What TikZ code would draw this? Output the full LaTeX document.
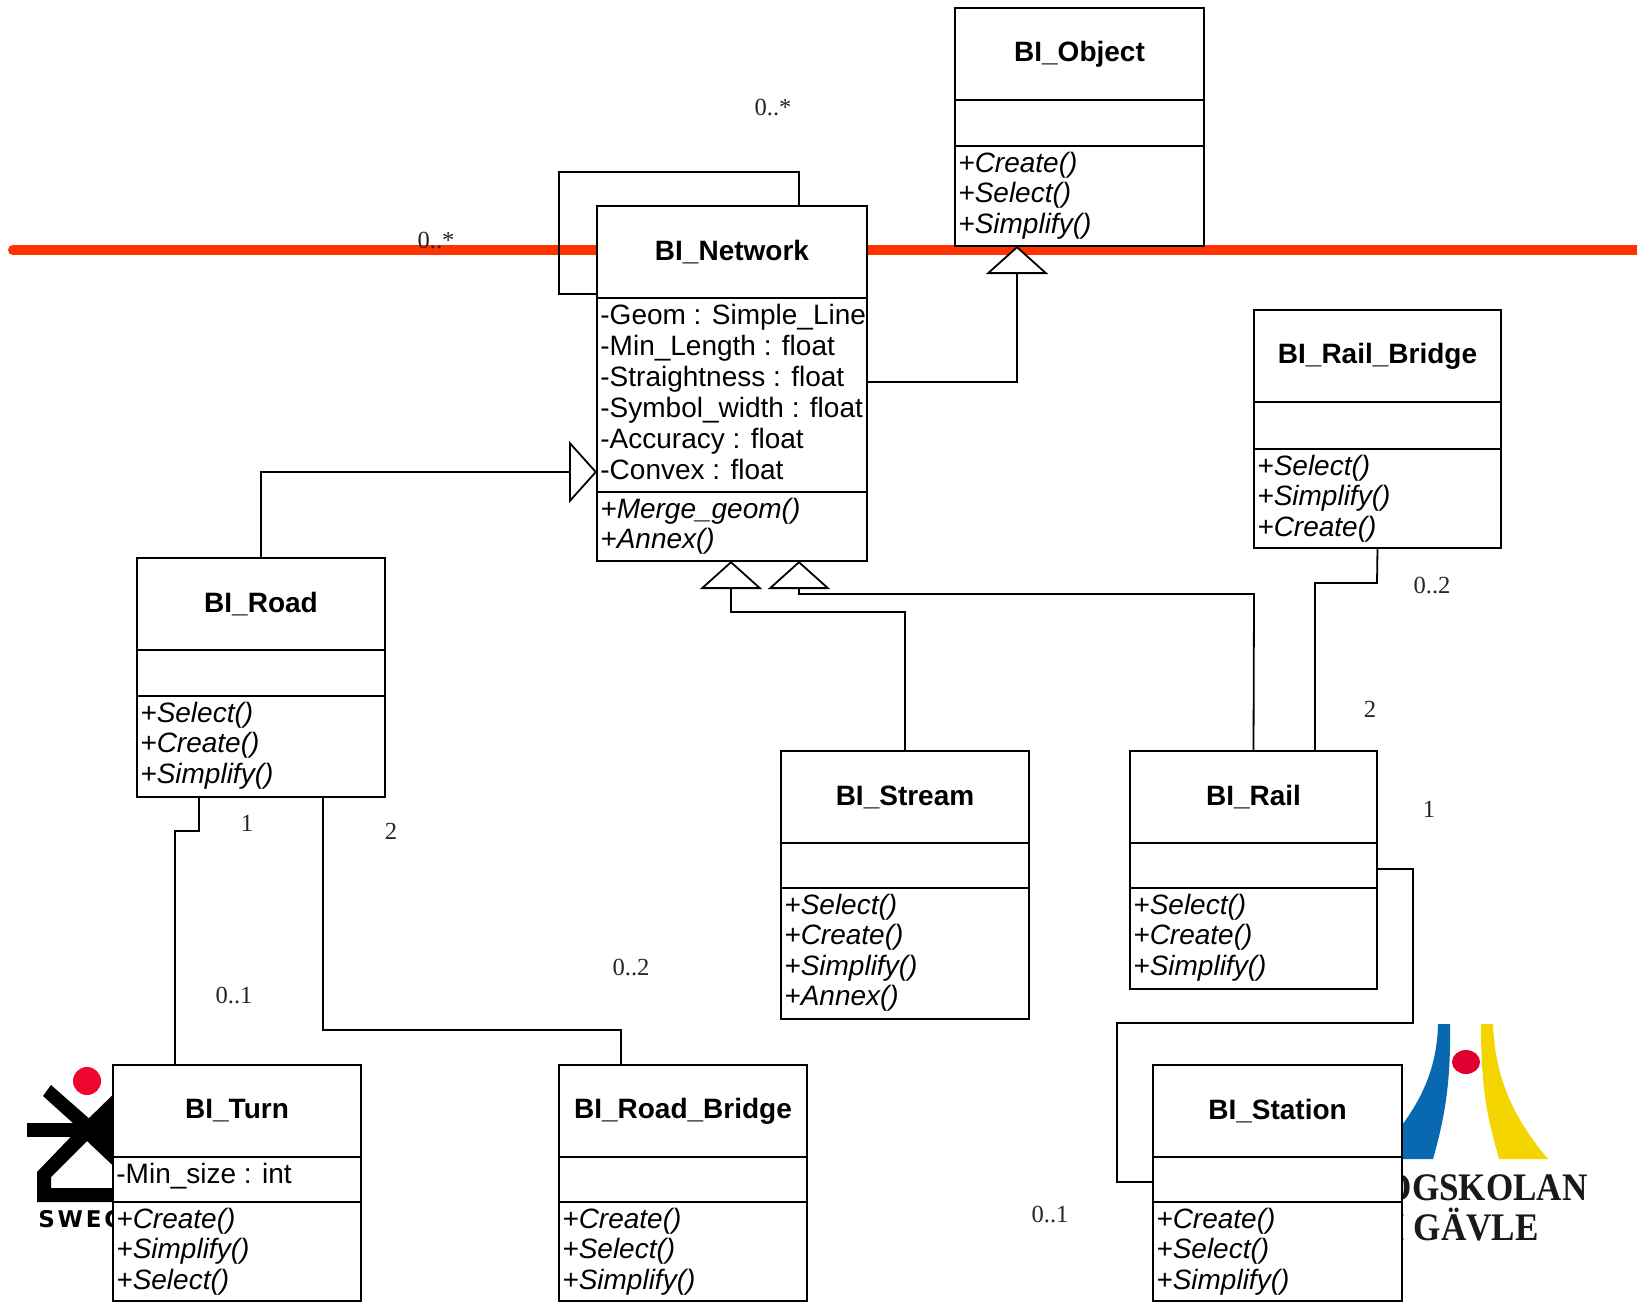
\documentclass[tikz,border=0pt]{standalone}
\usepackage{fontspec}
\setmainfont{Liberation Sans}
\newfontfamily\timesf{Liberation Serif}
\newfontfamily\swecof[LetterSpace=12]{DejaVu Sans}
\usetikzlibrary{arrows.meta}
\definecolor{redline}{HTML}{FF3300}
\definecolor{dotred}{HTML}{EE0530}
\definecolor{hbblue}{HTML}{0868B0}
\definecolor{hbyellow}{HTML}{F5D500}
\definecolor{hbred}{HTML}{DF0030}
\tikzset{
  classbox/.style={draw=black,fill=white,line width=0.9pt,inner sep=0pt,outer sep=0pt},
  classtitle/.style={font=\fontsize{14}{16}\selectfont\bfseries,inner sep=0pt},
  attrline/.style={font=\fontsize{14}{16}\selectfont,anchor=base west,inner sep=0pt},
  opline/.style={font=\fontsize{14}{16}\selectfont\itshape,anchor=base west,inner sep=0pt},
  mult/.style={font=\fontsize{12.3}{14}\timesf,inner sep=0pt,text=black!85},
  conn/.style={draw=black,line width=0.9pt,line join=miter},
  inherit/.style={conn,-{Triangle[fill=white,length=14pt,width=31pt,sep=0pt]}},
  hbtext/.style={font=\fontsize{19.5}{22}\timesf\bfseries,inner sep=0pt,anchor=base east,xscale=0.9,text=black!90},
}
% id, x1, y1, x2, y2, line 2, title, attributes, operations
\newcommand{\classrect}[9]{%
  \pgfmathsetmacro\cw{(#4-#2)*0.5}\pgfmathsetmacro\ch{(#5-#3)*0.5}%
  \pgfmathsetmacro\cx{(#2+#4)/2}\pgfmathsetmacro\cy{(#3+#5)/2}%
  \pgfmathsetmacro\lone{#3+92}\pgfmathsetmacro\lx{#2+3}%
  \node[classbox,minimum width=\cw pt,minimum height=\ch pt] (#1) at (\cx,\cy) {};
  \draw[conn] (#1.west |- 0,\lone) -- (#1.east |- 0,\lone);
  \draw[conn] (#1.west |- 0,#6) -- (#1.east |- 0,#6);
  \pgfmathsetmacro\ty{(#3+\lone)/2}%
  \node[classtitle] (#1-t) at (\cx,\ty) {#7};
  \foreach \t [count=\i from 0] in {#8} {
    \pgfmathsetmacro\yy{\lone+26+31*\i}
    \node[attrline] (#1-a\i) at (\lx,\yy) {\t};
  }
  \foreach \t [count=\i from 0] in {#9} {
    \pgfmathsetmacro\yy{#6+26+30.5*\i}
    \node[opline] (#1-o\i) at (\lx,\yy) {\t};
  }
}
\begin{document}
\begin{tikzpicture}[x=0.5pt,y=-0.5pt]
\useasboundingbox (0,0) rectangle (1637,1302);
\fill[white] (0,0) rectangle (1637,1302);
\clip (0,0) rectangle (1637,1302);
% red line
\draw[redline,line width=5pt,line cap=round] (13,250) -- (1660,250);
% SWECO logo
\fill[dotred] (87,1081) circle[radius=14];
\fill[black] (27,1123) rectangle (125,1137);
\fill[black,even odd rule] (37,1172) -- (87,1120) -- (125,1083) -- (125,1202) -- (37,1202) -- cycle
  (51,1177) -- (87,1141) -- (125,1177) -- (125,1188) -- (51,1188) -- cycle;
\fill[black] (43,1096) -- (51,1085) -- (125,1150) -- (125,1170) -- cycle;
\node[font=\fontsize{11.5}{13}\swecof\bfseries,anchor=base west,inner sep=0pt] (sweco) at (38,1227) {SWECO};
% HiG logo
\fill[hbblue] (1438,1024) -- (1450,1024) .. controls (1451,1085) and (1444,1120) .. (1433,1159) -- (1390,1159) -- (1390,1140) .. controls (1420,1105) and (1437,1070) .. cycle;
\fill[hbyellow] (1481,1024) -- (1493,1024) .. controls (1495,1080) and (1515,1120) .. (1548,1159) -- (1499,1159) .. controls (1490,1125) and (1481,1100) .. cycle;
\fill[hbred] (1466,1062) ellipse[x radius=14,y radius=12];
\node[hbtext] (hig1) at (1588,1200) {HÖGSKOLAN};
\node[hbtext] (hig2) at (1539,1240) {I GÄVLE};
% classes
\classrect{object}{955}{8}{1204}{246}{146}{BI\_Object}{}{+Create(),+Select(),+Simplify()}
\classrect{network}{597}{206}{867}{561}{492}{BI\_Network}{-Geom : Simple\_Line,-Min\_Length : float,-Straightness : float,-Symbol\_width : float,-Accuracy : float,-Convex : float}{+Merge\_geom(),+Annex()}
\classrect{railbridge}{1254}{310}{1501}{548}{449}{BI\_Rail\_Bridge}{}{+Select(),+Simplify(),+Create()}
\classrect{road}{137}{558}{385}{797}{696}{BI\_Road}{}{+Select(),+Create(),+Simplify()}
\classrect{stream}{781}{751}{1029}{1019}{888}{BI\_Stream}{}{+Select(),+Create(),+Simplify(),+Annex()}
\classrect{rail}{1130}{751}{1377}{989}{888}{BI\_Rail}{}{+Select(),+Create(),+Simplify()}
\classrect{turn}{113}{1065}{361}{1301}{1202}{BI\_Turn}{-Min\_size : int}{+Create(),+Simplify(),+Select()}
\classrect{roadbridge}{559}{1065}{807}{1301}{1202}{BI\_Road\_Bridge}{}{+Create(),+Select(),+Simplify()}
\classrect{station}{1153}{1065}{1402}{1301}{1202}{BI\_Station}{}{+Create(),+Select(),+Simplify()}
% connectors
\draw[conn] (799,0 |- network.north) -- (799,172) -- (559,172) -- (559,294) -- (559,294 -| network.west);
\draw[inherit] (network.east |- 0,382) -- (1017,382) -- (1017,0 |- object.south);
\draw[inherit] (261,0 |- road.north) -- (261,472) -- (network.west |- 0,472);
\draw[inherit] (905,0 |- stream.north) -- (905,612) -- (731,612) -- (731,0 |- network.south);
\draw[inherit] (rail.north) -- (1254,594) -- (799,594) -- (799,0 |- network.south);
\draw[conn] (railbridge.south) -- (1377,583) -- (1315,583) -- (1315,0 |- rail.north);
\draw[conn] (199,0 |- road.south) -- (199,831) -- (175,831) -- (175,0 |- turn.north);
\draw[conn] (323,0 |- road.south) -- (323,1030) -- (621,1030) -- (621,0 |- roadbridge.north);
\draw[conn] (rail.east |- 0,869) -- (1413,869) -- (1413,1023) -- (1117,1023) -- (1117,1182) -- (station.west |- 0,1182);
% multiplicities
\node[mult] (m1) at (773,107) {0..*};
\node[mult] (m2) at (436,240) {0..*};
\node[mult] (m3) at (1432,585) {0..2};
\node[mult] (m4) at (1370,709) {2};
\node[mult] (m5) at (1429,809) {1};
\node[mult] (m6) at (247,823) {1};
\node[mult] (m7) at (391,831) {2};
\node[mult] (m8) at (234,995) {0..1};
\node[mult] (m9) at (631,967) {0..2};
\node[mult] (m10) at (1050,1214) {0..1};
\end{tikzpicture}
\end{document}
